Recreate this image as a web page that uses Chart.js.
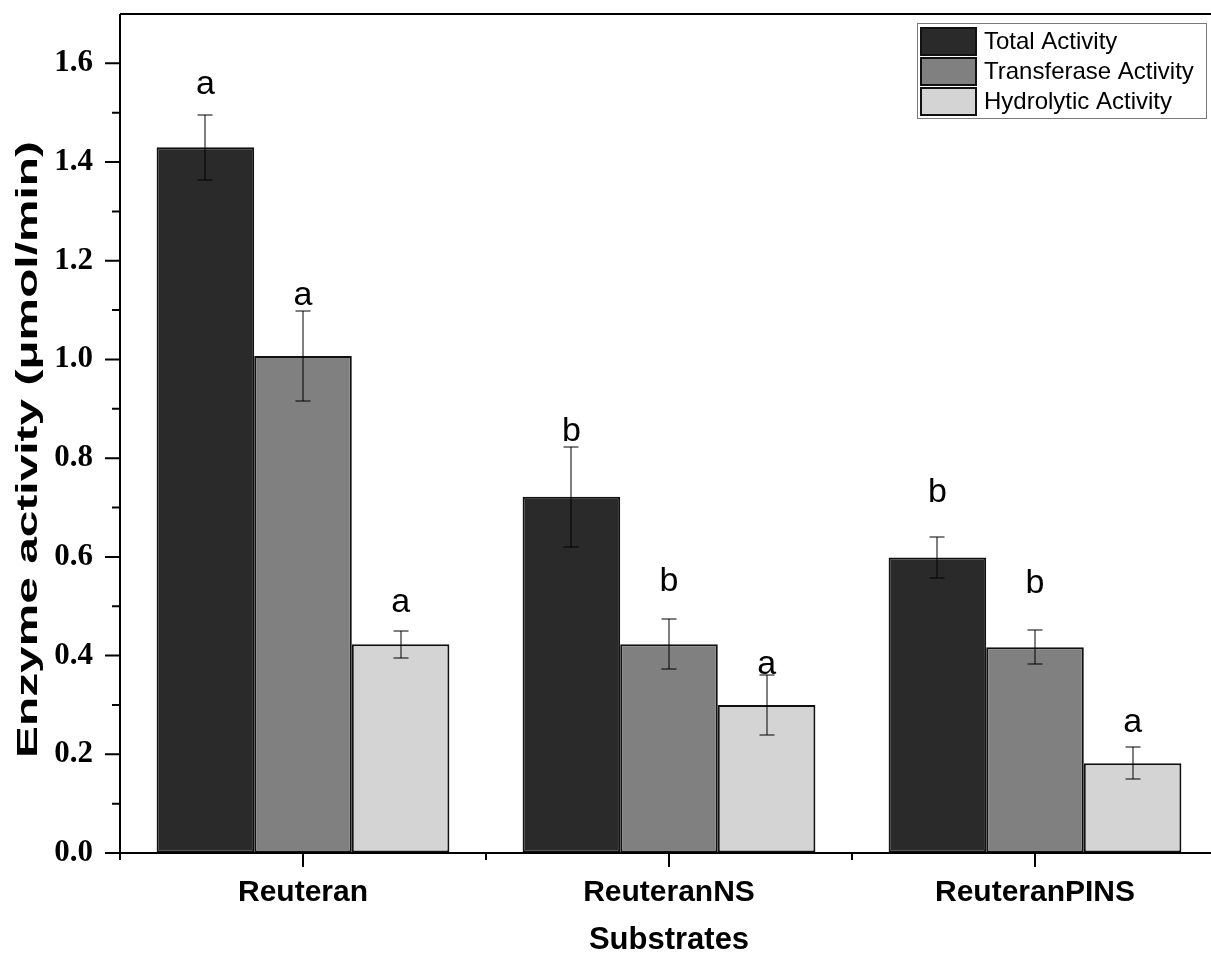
<!DOCTYPE html>
<html>
<head>
<meta charset="utf-8">
<script src="https://cdn.jsdelivr.net/npm/chart.js@4.4.1/dist/chart.umd.min.js"></script>
<style>
html, body { margin: 0; padding: 0; overflow: hidden; background: #fff; }
#wrap { width: 1230px; height: 960px; }
</style>
</head>
<body>
<div id="wrap"><canvas id="enzChart" width="1230" height="960"></canvas></div>
<script>
// data
var substrates = ['Reuteran', 'ReuteranNS', 'ReuteranPINS'];
var seriesNames = ['Total Activity', 'Transferase Activity', 'Hydrolytic Activity'];
var totalAct = [1.430, 0.722, 0.599];
var totalErr = [0.066, 0.101, 0.042];
var transAct = [1.007, 0.423, 0.417];
var transErr = [0.091, 0.051, 0.035];
var hydroAct = [0.423, 0.300, 0.182];
var hydroErr = [0.027, 0.060, 0.033];
var totalLetters = ['a', 'b', 'b'];
var transLetters = ['a', 'b', 'b'];
var hydroLetters = ['a', 'a', 'a'];
var totalLetterY = [1.557, 0.853, 0.731];
var transLetterY = [1.130, 0.549, 0.545];
var hydroLetterY = [0.508, 0.381, 0.265];
var yTicks = [0, 0.2, 0.4, 0.6, 0.8, 1.0, 1.2, 1.4, 1.6];
var yTitle = 'Enzyme activity (μmol/min)';

var fills = ['#2a2a2a', '#808080', '#d4d4d4'];
var SANS = '"Liberation Sans", Arial, sans-serif';
var SERIF = '"Liberation Serif", "Times New Roman", serif';

var extras = {
    id: 'extras',
    afterDatasetsDraw: function (chart) {
        var ctx = chart.ctx, ys = chart.scales.y;
        ctx.save();
        chart.data.datasets.forEach(function (ds, di) {
            var meta = chart.getDatasetMeta(di);
            meta.data.forEach(function (bar, i) {
                var v = ds.data[i], e = ds.errors[i];
                var bx = Math.round(bar.x);
                var yt = Math.round(ys.getPixelForValue(v + e)), yb = Math.round(ys.getPixelForValue(v - e));
                ctx.strokeStyle = '#000';
                ctx.lineWidth = 1;
                ctx.beginPath();
                ctx.moveTo(bx, yt); ctx.lineTo(bx, yb);
                ctx.moveTo(bx - 7.5, yt); ctx.lineTo(bx + 7.5, yt);
                ctx.moveTo(bx - 7.5, yb); ctx.lineTo(bx + 7.5, yb);
                ctx.stroke();
                ctx.fillStyle = '#000';
                ctx.font = '34px ' + SANS;
                ctx.textAlign = 'center';
                ctx.textBaseline = 'middle';
                ctx.fillText(ds.letters[i], bar.x, ys.getPixelForValue(ds.letterY[i]));
            });
        });
        ctx.restore();
    },
    afterDraw: function (chart) {
        var ctx = chart.ctx, a = chart.chartArea;
        var xs = chart.scales.x, ys = chart.scales.y;
        ctx.save();
        ctx.strokeStyle = '#000';
        ctx.lineWidth = 2;
        ctx.beginPath();
        ctx.moveTo(a.left, a.top); ctx.lineTo(a.right, a.top);
        ctx.moveTo(a.left, a.top); ctx.lineTo(a.left, a.bottom);
        ctx.moveTo(a.left, a.bottom); ctx.lineTo(a.right, a.bottom);
        // y ticks: major every 0.2, minor between
        for (var k = 0; k <= 16; k++) {
            var py = ys.getPixelForValue(k / 10);
            var len = (k % 2 === 0) ? 15 : 8;
            ctx.moveTo(a.left - len, py); ctx.lineTo(a.left, py);
        }
        // x ticks: major at categories, minor at boundaries
        var half = (xs.getPixelForValue(1) - xs.getPixelForValue(0)) / 2;
        for (var c = 0; c < substrates.length; c++) {
            var px = xs.getPixelForValue(c);
            ctx.moveTo(px, a.bottom); ctx.lineTo(px, a.bottom + 14);
            ctx.moveTo(px - half, a.bottom); ctx.lineTo(px - half, a.bottom + 7);
        }
        ctx.stroke();

        // y title, stretched along its length like the original
        ctx.save();
        ctx.translate(29, (a.top + a.bottom) / 2 + 16);
        ctx.rotate(-Math.PI / 2);
        ctx.scale(1.65, 1);
        ctx.font = 'bold 29px ' + SANS;
        ctx.fillStyle = '#000';
        ctx.textAlign = 'center';
        ctx.textBaseline = 'middle';
        ctx.fillText(yTitle, 0, 0);
        ctx.restore();

        // legend box
        var lx = a.right - 301, ly = a.top + 9, lw = 289, lh = 95;
        ctx.lineWidth = 1;
        ctx.strokeStyle = '#7a7a7a';
        ctx.strokeRect(lx + 0.5, ly + 0.5, lw, lh);
        ctx.font = '24px ' + SANS;
        ctx.textAlign = 'left';
        ctx.textBaseline = 'middle';
        chart.data.datasets.forEach(function (ds, di) {
            var sy = ly + 5 + di * 30;
            ctx.fillStyle = ds.backgroundColor;
            ctx.fillRect(lx + 4, sy, 55, 27);
            ctx.lineWidth = 2;
            ctx.strokeStyle = '#111';
            ctx.strokeRect(lx + 4, sy, 55, 27);
            ctx.fillStyle = '#000';
            ctx.fillText(ds.label, lx + 67, sy + 14);
        });
        ctx.restore();
    }
};

var datasets = [
    { label: seriesNames[0], data: totalAct, errors: totalErr, letters: totalLetters, letterY: totalLetterY },
    { label: seriesNames[1], data: transAct, errors: transErr, letters: transLetters, letterY: transLetterY },
    { label: seriesNames[2], data: hydroAct, errors: hydroErr, letters: hydroLetters, letterY: hydroLetterY }
];
for (var i = 0; i < datasets.length; i++) {
    datasets[i].backgroundColor = fills[i];
    datasets[i].borderColor = '#111';
    datasets[i].borderWidth = 2;
    datasets[i].borderSkipped = false;
    datasets[i].categoryPercentage = 0.8;
    datasets[i].barPercentage = 1.0;
}

var cfg = {
    type: 'bar',
    data: { labels: substrates, datasets: datasets },
    options: {
        responsive: false,
        animation: false,
        devicePixelRatio: 1,
        layout: { padding: { top: 14, right: 12, left: 0, bottom: 0 } },
        plugins: { legend: { display: false }, tooltip: { enabled: false } },
        scales: {
            x: {
                grid: { display: true, drawOnChartArea: false, drawTicks: false, color: 'rgba(0,0,0,0)' },
                border: { display: false },
                ticks: { color: '#000', padding: 22, font: { family: SANS, size: 30, weight: 'bold' } },
                title: { display: true, text: 'Substrates', color: '#000', padding: { top: 0, bottom: 1 },
                         font: { family: SANS, size: 31, weight: 'bold' } },
                afterFit: function (s) { s.height = 107; s.paddingLeft = 0; s.paddingRight = 0; }
            },
            y: {
                min: 0, max: 1.7,
                afterBuildTicks: function (s) { s.ticks = yTicks.map(function (v) { return { value: v }; }); },
                grid: { display: true, drawOnChartArea: false, drawTicks: false, color: 'rgba(0,0,0,0)' },
                border: { display: false },
                ticks: { color: '#000', padding: 27, font: { family: SERIF, size: 31, weight: 'bold' },
                         callback: function (v) { return v.toFixed(1); } },
                title: { display: false },
                afterFit: function (s) { s.width = 120; s.paddingTop = 0; s.paddingBottom = 0; }
            }
        }
    },
    plugins: [extras]
};

var enzChart = new Chart(document.getElementById('enzChart').getContext('2d'), cfg);
</script>
</body>
</html>
